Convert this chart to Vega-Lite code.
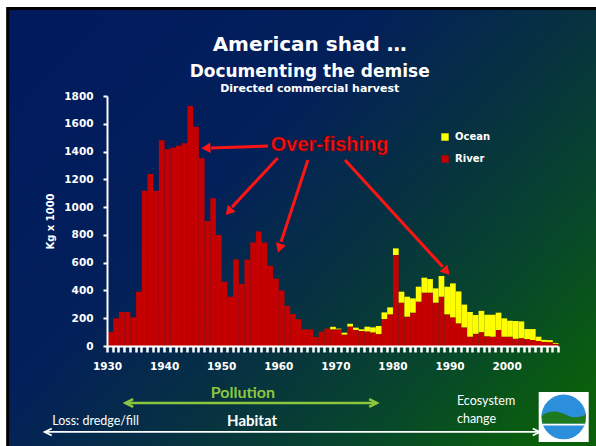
{
  "$schema": "https://vega.github.io/schema/vega-lite/v6.json",
  "width": 451,
  "height": 250,
  "autosize": {"type": "none"},
  "padding": {"left": 107, "top": 96, "right": 38, "bottom": 100},
  "background": "white",
  "config": {"view": {"stroke": null}, "axis": {"labelOverlap": false, "labelFlush": false, "labelBound": false}},
  "layer": [
    {
      "data": {"values": [{}]},
      "mark": {"type": "rect", "stroke": "black", "strokeWidth": 3,
        "fill": {"gradient": "linear", "x1": 0, "y1": 0.15, "x2": 1, "y2": 0.85,
          "stops": [
            {"offset": 0, "color": "#011a5e"},
            {"offset": 0.35, "color": "#03205a"},
            {"offset": 0.6, "color": "#07333f"},
            {"offset": 0.8, "color": "#07482a"},
            {"offset": 1, "color": "#0a600a"}
          ]}},
      "encoding": {
        "x": {"datum": 1912.6, "type": "quantitative"},
        "x2": {"datum": 2016.5},
        "y": {"datum": 2430, "type": "quantitative"},
        "y2": {"datum": -740}
      }
    },
    {
      "data": {"values": [
        {"year":1930,"type":"River","value":100},{"year":1931,"type":"River","value":199},{"year":1932,"type":"River","value":245},{"year":1933,"type":"River","value":245},{"year":1934,"type":"River","value":207},
        {"year":1935,"type":"River","value":391},{"year":1936,"type":"River","value":1118},{"year":1937,"type":"River","value":1238},{"year":1938,"type":"River","value":1118},{"year":1939,"type":"River","value":1481},
        {"year":1940,"type":"River","value":1416},{"year":1941,"type":"River","value":1428},{"year":1942,"type":"River","value":1442},{"year":1943,"type":"River","value":1459},{"year":1944,"type":"River","value":1728},
        {"year":1945,"type":"River","value":1579},{"year":1946,"type":"River","value":1351},{"year":1947,"type":"River","value":900},{"year":1948,"type":"River","value":1063},{"year":1949,"type":"River","value":799},
        {"year":1950,"type":"River","value":463},{"year":1951,"type":"River","value":355},{"year":1952,"type":"River","value":624},{"year":1953,"type":"River","value":446},{"year":1954,"type":"River","value":622},
        {"year":1955,"type":"River","value":746},{"year":1956,"type":"River","value":825},{"year":1957,"type":"River","value":745},{"year":1958,"type":"River","value":578},{"year":1959,"type":"River","value":485},
        {"year":1960,"type":"River","value":400},{"year":1961,"type":"River","value":289},{"year":1962,"type":"River","value":230},{"year":1963,"type":"River","value":193},{"year":1964,"type":"River","value":120},
        {"year":1965,"type":"River","value":120},{"year":1966,"type":"River","value":65},{"year":1967,"type":"River","value":103},{"year":1968,"type":"River","value":125},{"year":1969,"type":"River","value":120},
        {"year":1970,"type":"River","value":120},{"year":1971,"type":"River","value":82},{"year":1972,"type":"River","value":140},{"year":1973,"type":"River","value":115},{"year":1974,"type":"River","value":108},
        {"year":1975,"type":"River","value":105},{"year":1976,"type":"River","value":98},{"year":1977,"type":"River","value":86},{"year":1978,"type":"River","value":194},{"year":1979,"type":"River","value":228},
        {"year":1980,"type":"River","value":655},{"year":1981,"type":"River","value":312},{"year":1982,"type":"River","value":211},{"year":1983,"type":"River","value":240},{"year":1984,"type":"River","value":319},
        {"year":1985,"type":"River","value":384},{"year":1986,"type":"River","value":384},{"year":1987,"type":"River","value":312},{"year":1988,"type":"River","value":355},{"year":1989,"type":"River","value":228},
        {"year":1990,"type":"River","value":206},{"year":1991,"type":"River","value":163},{"year":1992,"type":"River","value":134},{"year":1993,"type":"River","value":67},{"year":1994,"type":"River","value":88},
        {"year":1995,"type":"River","value":100},{"year":1996,"type":"River","value":70},{"year":1997,"type":"River","value":67},{"year":1998,"type":"River","value":115},{"year":1999,"type":"River","value":67},
        {"year":2000,"type":"River","value":67},{"year":2001,"type":"River","value":52},{"year":2002,"type":"River","value":57},{"year":2003,"type":"River","value":50},{"year":2004,"type":"River","value":43},
        {"year":2005,"type":"River","value":36},{"year":2006,"type":"River","value":30},{"year":2007,"type":"River","value":28},{"year":2008,"type":"River","value":16},
        {"year":1969,"type":"Ocean","value":18},{"year":1970,"type":"Ocean","value":5},{"year":1971,"type":"Ocean","value":14},{"year":1972,"type":"Ocean","value":20},{"year":1973,"type":"Ocean","value":17},
        {"year":1974,"type":"Ocean","value":12},{"year":1975,"type":"Ocean","value":34},{"year":1976,"type":"Ocean","value":36},{"year":1977,"type":"Ocean","value":58},{"year":1978,"type":"Ocean","value":48},
        {"year":1979,"type":"Ocean","value":50},{"year":1980,"type":"Ocean","value":48},{"year":1981,"type":"Ocean","value":79},{"year":1982,"type":"Ocean","value":144},{"year":1983,"type":"Ocean","value":103},
        {"year":1984,"type":"Ocean","value":108},{"year":1985,"type":"Ocean","value":108},{"year":1986,"type":"Ocean","value":98},{"year":1987,"type":"Ocean","value":103},{"year":1988,"type":"Ocean","value":149},
        {"year":1989,"type":"Ocean","value":199},{"year":1990,"type":"Ocean","value":245},{"year":1991,"type":"Ocean","value":230},{"year":1992,"type":"Ocean","value":164},{"year":1993,"type":"Ocean","value":178},
        {"year":1994,"type":"Ocean","value":135},{"year":1995,"type":"Ocean","value":153},{"year":1996,"type":"Ocean","value":155},{"year":1997,"type":"Ocean","value":158},{"year":1998,"type":"Ocean","value":125},
        {"year":1999,"type":"Ocean","value":132},{"year":2000,"type":"Ocean","value":115},{"year":2001,"type":"Ocean","value":128},{"year":2002,"type":"Ocean","value":120},{"year":2003,"type":"Ocean","value":72},
        {"year":2004,"type":"Ocean","value":79},{"year":2005,"type":"Ocean","value":31},{"year":2006,"type":"Ocean","value":14},{"year":2007,"type":"Ocean","value":14},{"year":2008,"type":"Ocean","value":6}
      ]},
      "mark": {"type": "bar", "binSpacing": 0},
      "encoding": {
        "x": {"field": "year", "type": "quantitative", "bin": {"step": 1, "extent": [1930, 2009]},
          "scale": {"domain": [1930, 2009], "nice": false, "zero": false},
          "axis": {"title": null, "zindex": 2, "values": [1930,1931,1932,1933,1934,1935,1936,1937,1938,1939,1940,1941,1942,1943,1944,1945,1946,1947,1948,1949,1950,1951,1952,1953,1954,1955,1956,1957,1958,1959,1960,1961,1962,1963,1964,1965,1966,1967,1968,1969,1970,1971,1972,1973,1974,1975,1976,1977,1978,1979,1980,1981,1982,1983,1984,1985,1986,1987,1988,1989,1990,1991,1992,1993,1994,1995,1996,1997,1998,1999,2000,2001,2002,2003,2004,2005,2006,2007,2008,2009],
            "labelExpr": "datum.value % 10 === 0 && datum.value <= 2000 ? datum.value : ''",
            "domainColor": "white", "domainWidth": 2, "tickColor": "white", "tickWidth": 2.5, "tickSize": 6,
            "labelColor": "white", "labelFont": "DejaVu Sans", "labelFontWeight": "bold", "labelFontSize": 10.5,
            "labelPadding": 9, "grid": false, "labelOverlap": false, "labelFlush": false}},
        "y": {"field": "value", "type": "quantitative", "stack": "zero",
          "scale": {"domain": [0, 1800], "nice": false},
          "axis": {"title": "Kg x 1000", "zindex": 2, "values": [0,200,400,600,800,1000,1200,1400,1600,1800],
            "tickCount": 10, "format": "d", "labelOverlap": false, "labelFlush": false,
            "domainColor": "white", "domainWidth": 2, "tickColor": "white", "tickWidth": 2, "tickSize": 4,
            "labelColor": "white", "labelFont": "DejaVu Sans", "labelFontWeight": "bold", "labelFontSize": 10.5,
            "labelPadding": 10, "grid": false,
            "titleColor": "white", "titleFont": "DejaVu Sans", "titleFontWeight": "bold", "titleFontSize": 10,
            "titlePadding": 8}},
        "color": {"field": "type", "type": "nominal",
          "scale": {"domain": ["Ocean", "River"], "range": ["#ffff00", "#c40000"]},
          "legend": {"orient": "none", "legendX": 333, "legendY": 36, "title": null,
            "labelColor": "white", "labelFont": "DejaVu Sans", "labelFontWeight": "bold", "labelFontSize": 10,
            "symbolType": "square", "symbolSize": 55, "symbolStrokeWidth": 0, "rowPadding": 12, "labelOffset": 5}},
        "order": {"field": "type", "sort": "descending"}
      }
    },
    {
      "data": {"values": [{}]},
      "mark": {"type": "text", "text": "American shad \u2026", "font": "DejaVu Sans", "fontWeight": "bold", "fontSize": 20, "color": "white", "baseline": "middle"},
      "encoding": {"x": {"datum": 1965.5, "type": "quantitative"}, "y": {"datum": 2167, "type": "quantitative"}}
    },
    {
      "data": {"values": [{}]},
      "mark": {"type": "text", "text": "Documenting the demise", "font": "DejaVu Sans", "fontWeight": "bold", "fontSize": 17, "color": "white", "baseline": "middle"},
      "encoding": {"x": {"datum": 1965.5, "type": "quantitative"}, "y": {"datum": 1973, "type": "quantitative"}}
    },
    {
      "data": {"values": [{}]},
      "mark": {"type": "text", "text": "Directed commercial harvest", "font": "DejaVu Sans", "fontWeight": "bold", "fontSize": 11, "color": "white", "baseline": "middle"},
      "encoding": {"x": {"datum": 1965.5, "type": "quantitative"}, "y": {"datum": 1850, "type": "quantitative"}}
    },
    {
      "data": {"values": [{}]},
      "mark": {"type": "rule", "color": "#ff1414", "strokeWidth": 3},
      "encoding": {"x": {"datum": 1958.2, "type": "quantitative"}, "x2": {"datum": 1948.2}, "y": {"datum": 1440, "type": "quantitative"}, "y2": {"datum": 1426}}
    },
    {
      "data": {"values": [{}]},
      "mark": {"type": "rule", "color": "#ff1414", "strokeWidth": 3},
      "encoding": {"x": {"datum": 1959.9, "type": "quantitative"}, "x2": {"datum": 1951.9}, "y": {"datum": 1354, "type": "quantitative"}, "y2": {"datum": 1000}}
    },
    {
      "data": {"values": [{}]},
      "mark": {"type": "rule", "color": "#ff1414", "strokeWidth": 3},
      "encoding": {"x": {"datum": 1965.2, "type": "quantitative"}, "x2": {"datum": 1960.5}, "y": {"datum": 1339, "type": "quantitative"}, "y2": {"datum": 750}}
    },
    {
      "data": {"values": [{}]},
      "mark": {"type": "rule", "color": "#ff1414", "strokeWidth": 3},
      "encoding": {"x": {"datum": 1971.7, "type": "quantitative"}, "x2": {"datum": 1988.8}, "y": {"datum": 1339, "type": "quantitative"}, "y2": {"datum": 570}}
    },
    {
      "data": {"values": [{}]},
      "mark": {"type": "point", "shape": "triangle", "angle": 268, "filled": true, "color": "#ff1414", "opacity": 1, "size": 110},
      "encoding": {"x": {"datum": 1947.6, "type": "quantitative"}, "y": {"datum": 1426, "type": "quantitative"}}
    },
    {
      "data": {"values": [{}]},
      "mark": {"type": "point", "shape": "triangle", "angle": 222, "filled": true, "color": "#ff1414", "opacity": 1, "size": 110},
      "encoding": {"x": {"datum": 1951.5, "type": "quantitative"}, "y": {"datum": 975, "type": "quantitative"}}
    },
    {
      "data": {"values": [{}]},
      "mark": {"type": "point", "shape": "triangle", "angle": 198, "filled": true, "color": "#ff1414", "opacity": 1, "size": 110},
      "encoding": {"x": {"datum": 1960.3, "type": "quantitative"}, "y": {"datum": 715, "type": "quantitative"}}
    },
    {
      "data": {"values": [{}]},
      "mark": {"type": "point", "shape": "triangle", "angle": 138, "filled": true, "color": "#ff1414", "opacity": 1, "size": 110},
      "encoding": {"x": {"datum": 1989.3, "type": "quantitative"}, "y": {"datum": 545, "type": "quantitative"}}
    },
    {
      "data": {"values": [{}]},
      "mark": {"type": "text", "text": "Over-fishing", "font": "Liberation Sans", "fontWeight": "bold", "fontSize": 20, "color": "#ff1414", "stroke": "#7a0000", "strokeWidth": 0.7, "baseline": "middle"},
      "encoding": {"x": {"datum": 1969.0, "type": "quantitative"}, "y": {"datum": 1447, "type": "quantitative"}}
    },
    {
      "data": {"values": [{}]},
      "mark": {"type": "text", "text": "Pollution", "font": "Lato", "fontWeight": "bold", "fontSize": 16, "color": "#8cc63f", "baseline": "middle"},
      "encoding": {"x": {"datum": 1953.8, "type": "quantitative"}, "y": {"datum": -338, "type": "quantitative"}}
    },
    {
      "data": {"values": [{}]},
      "mark": {"type": "rule", "color": "#8cc63f", "strokeWidth": 2.5},
      "encoding": {"x": {"datum": 1933.2, "type": "quantitative"}, "x2": {"datum": 1977.3}, "y": {"datum": -410, "type": "quantitative"}}
    },
    {
      "data": {"values": [{}]},
      "mark": {"type": "point", "shape": "M 1 -1 L -1 0 L 1 1", "filled": false, "color": "#8cc63f", "strokeWidth": 2.5, "opacity": 1, "size": 60},
      "encoding": {"x": {"datum": 1933.9, "type": "quantitative"}, "y": {"datum": -410, "type": "quantitative"}}
    },
    {
      "data": {"values": [{}]},
      "mark": {"type": "point", "shape": "M -1 -1 L 1 0 L -1 1", "filled": false, "color": "#8cc63f", "strokeWidth": 2.5, "opacity": 1, "size": 60},
      "encoding": {"x": {"datum": 1976.6, "type": "quantitative"}, "y": {"datum": -410, "type": "quantitative"}}
    },
    {
      "data": {"values": [{}]},
      "mark": {"type": "text", "text": "Habitat", "font": "Lato", "fontWeight": "bold", "fontSize": 15, "color": "white", "baseline": "middle"},
      "encoding": {"x": {"datum": 1955.4, "type": "quantitative"}, "y": {"datum": -540, "type": "quantitative"}}
    },
    {
      "data": {"values": [{}]},
      "mark": {"type": "rule", "color": "white", "strokeWidth": 1.8},
      "encoding": {"x": {"datum": 1919.1, "type": "quantitative"}, "x2": {"datum": 2005.8}, "y": {"datum": -619, "type": "quantitative"}}
    },
    {
      "data": {"values": [{}]},
      "mark": {"type": "point", "shape": "M 1 -1 L -1 0 L 1 1", "filled": false, "color": "white", "strokeWidth": 1.8, "opacity": 1, "size": 50},
      "encoding": {"x": {"datum": 1919.7, "type": "quantitative"}, "y": {"datum": -619, "type": "quantitative"}}
    },
    {
      "data": {"values": [{}]},
      "mark": {"type": "point", "shape": "M -1 -1 L 1 0 L -1 1", "filled": false, "color": "white", "strokeWidth": 1.8, "opacity": 1, "size": 50},
      "encoding": {"x": {"datum": 2005.2, "type": "quantitative"}, "y": {"datum": -619, "type": "quantitative"}}
    },
    {
      "data": {"values": [{}]},
      "mark": {"type": "text", "text": "Loss: dredge/fill", "font": "Lato", "fontSize": 12.5, "color": "white", "align": "left", "baseline": "middle"},
      "encoding": {"x": {"datum": 1920.4, "type": "quantitative"}, "y": {"datum": -540, "type": "quantitative"}}
    },
    {
      "data": {"values": [{}]},
      "mark": {"type": "text", "text": "Ecosystem", "font": "Lato", "fontSize": 12.5, "color": "white", "align": "left", "baseline": "middle"},
      "encoding": {"x": {"datum": 1991.3, "type": "quantitative"}, "y": {"datum": -396, "type": "quantitative"}}
    },
    {
      "data": {"values": [{}]},
      "mark": {"type": "text", "text": "change", "font": "Lato", "fontSize": 12.5, "color": "white", "align": "left", "baseline": "middle"},
      "encoding": {"x": {"datum": 1991.3, "type": "quantitative"}, "y": {"datum": -526, "type": "quantitative"}}
    },
    {
      "data": {"values": [{}]},
      "mark": {"type": "point", "shape": "square", "filled": true, "color": "white", "opacity": 1, "size": 2500},
      "encoding": {"x": {"datum": 2010.0, "type": "quantitative"}, "y": {"datum": -511, "type": "quantitative"}}
    },
    {
      "data": {"values": [{}]},
      "mark": {"type": "point", "shape": "circle", "filled": true, "color": "#2b8fdb", "opacity": 1, "size": 2000},
      "encoding": {"x": {"datum": 2010.0, "type": "quantitative"}, "y": {"datum": -511, "type": "quantitative"}}
    },
    {
      "data": {"values": [{}]},
      "mark": {"type": "point", "shape": "M -0.98 -0.05 C -0.6 -0.35 -0.2 -0.25 0.2 -0.05 C 0.5 0.08 0.8 0.0 0.99 -0.12 L 0.96 0.3 L -0.96 0.3 Z", "filled": true, "color": "#1e7a1e", "opacity": 1, "size": 2000},
      "encoding": {"x": {"datum": 2010.0, "type": "quantitative"}, "y": {"datum": -511, "type": "quantitative"}}
    },
    {
      "data": {"values": [{}]},
      "mark": {"type": "point", "shape": "M -0.95 0.3 L 0.95 0.3 L 0.93 0.38 L -0.93 0.38 Z", "filled": true, "color": "white", "opacity": 1, "size": 2000},
      "encoding": {"x": {"datum": 2010.0, "type": "quantitative"}, "y": {"datum": -511, "type": "quantitative"}}
    }
  ]
}
